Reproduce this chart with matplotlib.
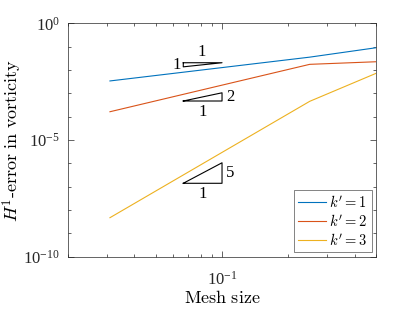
import numpy as np
import matplotlib
matplotlib.use("Agg")
import matplotlib.pyplot as plt
from matplotlib.ticker import FixedLocator, NullFormatter, LogFormatterSciNotation

# mesh sizes and H1 errors
mesh_size = [0.031, 0.25, 0.5]
err_k1 = [3.4e-3, 3.56e-2, 9.0e-2]
err_k2 = [1.63e-4, 1.75e-2, 2.26e-2]
err_k3 = [4.7e-9, 4.55e-4, 7.2e-3]
labels = [r"$k'=1$", r"$k'=2$", r"$k'=3$"]
colors = ["#0072BD", "#D95319", "#EDB120"]

# slope triangles: (slope, anchor y, orientation)
tri_x = [0.0667, 0.1]
triangles = [(1, 2.05e-2, "top"), (2, 4.7e-4, "bottom"), (5, 1.4e-7, "bottom")]

plt.rcParams["font.family"] = "Liberation Serif"
plt.rcParams["mathtext.fontset"] = "stix"

fig = plt.figure(figsize=(4.15, 3.12), dpi=100)
ax = fig.add_axes([0.1639, 0.1772, 0.7422, 0.748])

for ys, lab, c in zip([err_k1, err_k2, err_k3], labels, colors):
    ax.loglog(mesh_size, ys, color=c, lw=0.8, label=lab)

x0, x1 = tri_x
r = x1 / x0
for s, y0, kind in triangles:
    if kind == "top":
        tx = [x0, x1, x0, x0]
        ty = [y0, y0, y0 / r**s, y0]
        ax.plot(tx, ty, color="k", lw=0.8)
        ax.text(np.sqrt(x0 * x1) * 0.99, y0 * 1.25, "1", ha="center", va="bottom", fontsize=12)
        ax.text(x0 * 0.97, y0 / r**(s / 2), "1", ha="right", va="center", fontsize=12)
    else:
        tx = [x0, x1, x1, x0]
        ty = [y0, y0, y0 * r**s, y0]
        ax.plot(tx, ty, color="k", lw=0.8)
        ax.text(np.sqrt(x0 * x1), y0 / 1.35, "1", ha="center", va="top", fontsize=12)
        ax.text(x1 * 1.04, y0 * r**(s / 2), str(s), ha="left", va="center", fontsize=12)

ax.set_xlim(0.02, 0.5)
ax.set_ylim(1e-10, 1e0)

ax.xaxis.set_major_locator(FixedLocator([0.1]))
ax.xaxis.set_minor_locator(FixedLocator([0.02, 0.03, 0.04, 0.05, 0.06, 0.07, 0.08, 0.09,
                                         0.2, 0.3, 0.4, 0.5]))
ax.yaxis.set_major_locator(FixedLocator([1e-10, 1e-5, 1e0]))
ax.yaxis.set_minor_locator(FixedLocator([10.0**k for k in range(-10, 1)]))
ax.xaxis.set_major_formatter(LogFormatterSciNotation())
ax.yaxis.set_major_formatter(LogFormatterSciNotation())
ax.xaxis.set_minor_formatter(NullFormatter())
ax.yaxis.set_minor_formatter(NullFormatter())

ax.tick_params(which="both", direction="in", top=True, right=True, colors="#262626",
               width=0.5, labelsize=12)
ax.tick_params(axis="x", which="major", length=4, pad=10)
ax.tick_params(axis="y", which="major", length=4, pad=6)
ax.tick_params(which="minor", length=2.5)
for sp in ax.spines.values():
    sp.set_color("#262626")
    sp.set_linewidth(0.5)

ax.set_xlabel(r"$\mathrm{Mesh\ size}$", fontsize=13, math_fontfamily="cm", labelpad=1)
ax.set_ylabel(r"$H^1\mathrm{\text{-}error\ in\ vorticity}$", fontsize=13,
              math_fontfamily="cm")
ax.yaxis.label.set_verticalalignment("center")
ax.yaxis.set_label_coords(-0.18, 0.5)

leg = ax.legend(loc="lower right", fontsize=10.5, frameon=True, fancybox=False,
                edgecolor="#262626", handlelength=1.9, handletextpad=0.2,
                borderpad=0.3, labelspacing=0.2, borderaxespad=0.3)
leg.get_frame().set_linewidth(0.5)
for t in leg.get_texts():
    t.set_math_fontfamily("cm")

fig.savefig("out.png", dpi=100)
